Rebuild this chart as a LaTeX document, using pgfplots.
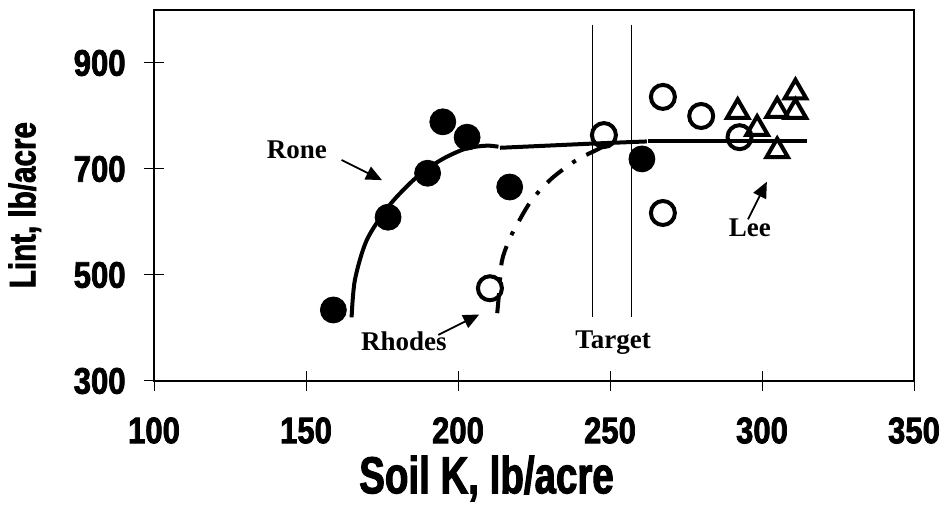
\documentclass[border=0pt]{standalone}
\usepackage{fontspec}
\setmainfont{Liberation Serif}
\newfontfamily\tickfont{Liberation Sans Bold}[FakeStretch=0.84,FakeBold=2]
\newfontfamily\ylabfont{Liberation Sans Bold}[FakeStretch=0.8,FakeBold=2]
\newfontfamily\xlabfont{Liberation Sans Bold}[FakeStretch=0.74,FakeBold=2]
\usepackage{pgfplots}
\pgfplotsset{compat=1.18}
\usetikzlibrary{arrows.meta}

\begin{document}
\begin{tikzpicture}
\begin{axis}[
    name=ax,
    width=380pt, height=185.5pt, scale only axis,
    xmin=100, xmax=350, ymin=300, ymax=1000,
    xtick={100,150,200,250,300,350},
    ytick={300,500,700,900},
    xtick pos=bottom, ytick pos=left,
    tick align=center, major tick length=10pt,
    tick style={line width=0.5pt, black},
    axis line style={line width=1.2pt},
    /pgf/number format/assume math mode=true,
    /pgf/number format/1000 sep={},
    ticklabel style={font=\tickfont\fontsize{18.5}{20}\selectfont, inner sep=0pt},
    xticklabel style={anchor=north, yshift=-13pt},
    yticklabel style={anchor=east, xshift=-9pt},
    xlabel={Soil K, lb/acre},
    ylabel={Lint, lb/acre},
    xlabel style={font=\xlabfont\fontsize{26}{28}\selectfont, inner sep=0pt,
        at={(axis description cs:0.4375,-0.2)}, anchor=north},
    ylabel style={font=\ylabfont\fontsize{18.5}{20}\selectfont, inner sep=0pt,
        at={(axis description cs:-0.17,0.474)}, anchor=center},
    clip=false,
]
% target lines
\addplot[black, line width=0.75pt] coordinates {(244.3,972) (244.3,421)};
\addplot[black, line width=0.75pt] coordinates {(257,972) (257,421)};

% Rone fitted curve
\addplot[black, line width=2pt, smooth] coordinates {
    (165.0,420) (166.1,491) (170.0,566) (177.1,629) (184.2,673) (190.0,701)
    (196.3,723) (202.9,739) (209.4,744) (213.3,742)};
\addplot[black, line width=2pt] coordinates {(213.8,740) (244.5,748) (262.1,752)};
\addplot[black, line width=2pt] coordinates {(262.5,752) (314.7,752)};

% Rhodes fitted curve
\addplot[black, line width=2pt, smooth, dash pattern=on 10pt off 6pt on 2pt off 6pt] coordinates {
    (212.9,428) (213.5,465) (214.4,525) (216.6,563) (219.3,594) (224.2,641)
    (230.8,682) (238.5,715) (244.5,733) (247.7,742)};

% Rone data
\addplot[only marks, mark=*, mark size=6.5pt, black] coordinates {
    (159,434) (177,609) (190,692) (195,789) (203,760) (217,666) (260.5,719)};

% Rhodes data
\addplot[only marks, mark=o, mark size=6pt, black, line width=2pt] coordinates {
    (210.5,475) (248,764) (267.4,836) (280,800) (292.6,760) (267.4,617)};

% Lee data
\addplot[only marks, mark=triangle, mark size=6.2pt, black, line width=2pt] coordinates {
    (292,808) (298.4,776) (305,810) (311,845) (311,808) (305,734)};

% labels and arrows
\node[font=\bfseries\fontsize{13.5}{15}\selectfont] at (axis cs:147,736) {Rone};
\node[font=\bfseries\fontsize{13.5}{15}\selectfont] at (axis cs:182.2,375) {Rhodes};
\node[font=\bfseries\fontsize{13.5}{15}\selectfont] at (axis cs:251,373) {Target};
\node[font=\bfseries\fontsize{13.5}{15}\selectfont] at (axis cs:296,590) {Lee};
\draw[line width=0.9pt, -{Triangle[length=8pt,width=7pt]}] (axis cs:161.7,717) -- (axis cs:175,679);
\draw[line width=0.9pt, -{Triangle[length=8pt,width=7pt]}] (axis cs:193.5,387) -- (axis cs:207,425.5);
\draw[line width=0.9pt, -{Triangle[length=8pt,width=7pt]}] (axis cs:295.4,605) -- (axis cs:301.6,676);
\end{axis}
\pgfresetboundingbox
\path[use as bounding box] ([shift={(-77pt,-62.5pt)}]ax.south west) rectangle ([shift={(393.5pt,190.5pt)}]ax.south west);
\end{tikzpicture}
\end{document}
